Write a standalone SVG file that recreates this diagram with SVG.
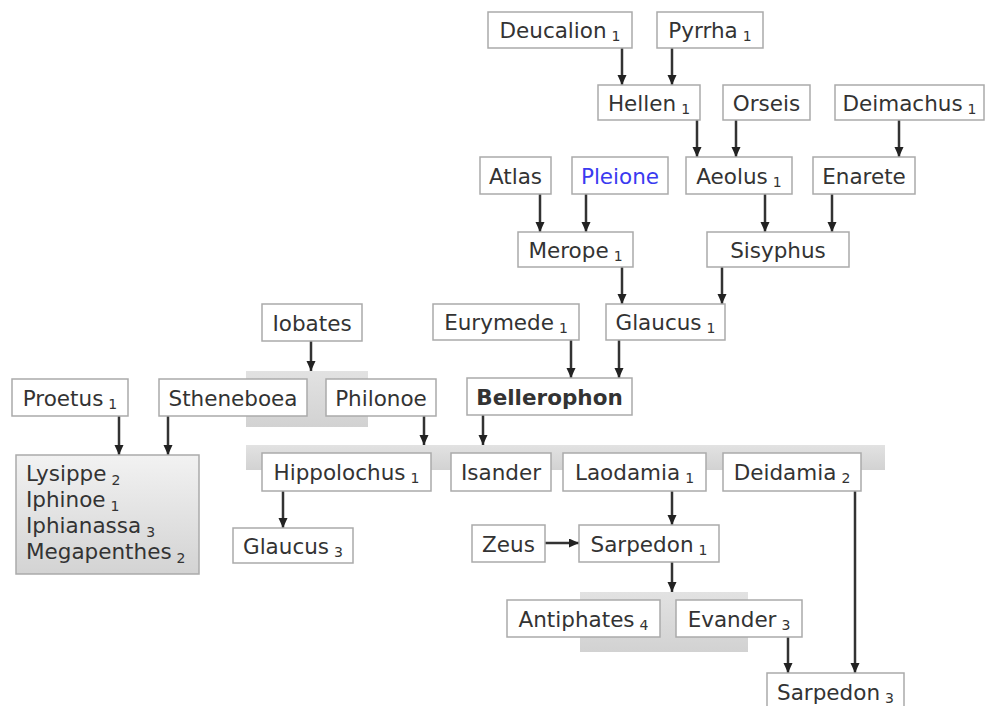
<svg xmlns="http://www.w3.org/2000/svg" width="986" height="706" viewBox="0 0 986 706">
<style>
.box{fill:#fff;stroke:#aaa;stroke-width:1.5}
.grp{fill:url(#gg)}
.t{font-family:"DejaVu Sans",Verdana,sans-serif;font-size:21.5px;fill:#333;text-anchor:middle}
.tl{font-family:"DejaVu Sans",Verdana,sans-serif;font-size:21.5px;fill:#333}
.s{font-size:14px}
.b{font-weight:bold}
.blue{fill:#3a3af0}
.c line{stroke:#333;stroke-width:2.5;marker-end:url(#ah)}
</style>
<defs>
<marker id="ah" markerUnits="userSpaceOnUse" markerWidth="11" markerHeight="10" refX="10" refY="4.5" orient="auto"><path d="M0,0 L10,4.5 L0,9 z" fill="#222"/></marker>
<linearGradient id="gg" x1="0" y1="0" x2="0" y2="1"><stop offset="0" stop-color="#e2e2e2"/><stop offset="1" stop-color="#d2d2d2"/></linearGradient>
<linearGradient id="lg" x1="0" y1="0" x2="0" y2="1"><stop offset="0" stop-color="#f2f2f2"/><stop offset="1" stop-color="#d3d3d3"/></linearGradient>
</defs>
<rect width="986" height="706" fill="#fff"/>
<g id="groups">
<rect class="grp" x="246" y="371" width="122" height="56"/>
<rect class="grp" x="246" y="445" width="639" height="25"/>
<rect class="grp" x="580" y="592" width="168" height="60"/>
</g>
<g class="c" id="connectors">
<line x1="622" y1="48" x2="622" y2="85"/>
<line x1="672" y1="48" x2="672" y2="85"/>
<line x1="697" y1="120" x2="697" y2="157"/>
<line x1="736" y1="120" x2="736" y2="157"/>
<line x1="899" y1="120" x2="899" y2="157"/>
<line x1="540" y1="194" x2="540" y2="232"/>
<line x1="586" y1="194" x2="586" y2="232"/>
<line x1="765" y1="194" x2="765" y2="232"/>
<line x1="832" y1="194" x2="832" y2="232"/>
<line x1="622" y1="267" x2="622" y2="304"/>
<line x1="722" y1="267" x2="722" y2="304"/>
<line x1="571" y1="340" x2="571" y2="378"/>
<line x1="619" y1="340" x2="619" y2="378"/>
<line x1="311" y1="341" x2="311" y2="371"/>
<line x1="119" y1="416" x2="119" y2="455"/>
<line x1="168" y1="416" x2="168" y2="455"/>
<line x1="424" y1="416" x2="424" y2="445"/>
<line x1="483" y1="415" x2="483" y2="445"/>
<line x1="283" y1="491" x2="283" y2="528"/>
<line x1="672" y1="491" x2="672" y2="525"/>
<line x1="545" y1="543" x2="579" y2="543"/>
<line x1="672" y1="562" x2="672" y2="592"/>
<line x1="788" y1="637" x2="788" y2="673"/>
<line x1="855" y1="491" x2="855" y2="673"/>
</g>
<g id="deucalion"><rect class="box" x="488" y="12" width="144" height="36"/><text class="t" x="560" y="37.5">Deucalion<tspan class="s" dx="5" dy="3.5">1</tspan></text></g>
<g id="pyrrha"><rect class="box" x="657" y="12" width="106" height="36"/><text class="t" x="710" y="37.5">Pyrrha<tspan class="s" dx="5" dy="3.5">1</tspan></text></g>
<g id="hellen"><rect class="box" x="598" y="85" width="102" height="35"/><text class="t" x="649" y="110.5">Hellen<tspan class="s" dx="5" dy="3.5">1</tspan></text></g>
<g id="orseis"><rect class="box" x="723" y="85" width="87" height="35"/><text class="t" x="766.5" y="110.5">Orseis</text></g>
<g id="deimachus"><rect class="box" x="835" y="85" width="149" height="35"/><text class="t" x="909.5" y="110.5">Deimachus<tspan class="s" dx="5" dy="3.5">1</tspan></text></g>
<g id="atlas"><rect class="box" x="480" y="157" width="71" height="37"/><text class="t" x="515.5" y="183.5">Atlas</text></g>
<g id="pleione"><rect class="box" x="572" y="157" width="96" height="37"/><text class="t blue" x="620" y="183.5">Pleione</text></g>
<g id="aeolus"><rect class="box" x="686" y="157" width="106" height="37"/><text class="t" x="739" y="183.5">Aeolus<tspan class="s" dx="5" dy="3.5">1</tspan></text></g>
<g id="enarete"><rect class="box" x="813" y="157" width="102" height="37"/><text class="t" x="864" y="183.5">Enarete</text></g>
<g id="merope"><rect class="box" x="518" y="232" width="115" height="35"/><text class="t" x="575.5" y="257.5">Merope<tspan class="s" dx="5" dy="3.5">1</tspan></text></g>
<g id="sisyphus"><rect class="box" x="707" y="232" width="142" height="35"/><text class="t" x="778" y="257.5">Sisyphus</text></g>
<g id="iobates"><rect class="box" x="262" y="304" width="100" height="37"/><text class="t" x="312" y="330.5">Iobates</text></g>
<g id="eurymede"><rect class="box" x="433" y="304" width="146" height="36"/><text class="t" x="506" y="329.5">Eurymede<tspan class="s" dx="5" dy="3.5">1</tspan></text></g>
<g id="glaucus1"><rect class="box" x="606" y="304" width="119" height="36"/><text class="t" x="665.5" y="329.5">Glaucus<tspan class="s" dx="5" dy="3.5">1</tspan></text></g>
<g id="proetus"><rect class="box" x="12" y="379" width="116" height="37"/><text class="t" x="70" y="405.5">Proetus<tspan class="s" dx="5" dy="3.5">1</tspan></text></g>
<g id="stheneboea"><rect class="box" x="159" y="379" width="148" height="37"/><text class="t" x="233" y="405.5">Stheneboea</text></g>
<g id="philonoe"><rect class="box" x="326" y="379" width="110" height="37"/><text class="t" x="381" y="405.5">Philonoe</text></g>
<g id="bellerophon"><rect class="box" x="467" y="378" width="165" height="37"/><text class="t b" x="549.5" y="404.5">Bellerophon</text></g>
<g id="daughters"><rect x="16" y="455" width="183" height="119" fill="url(#lg)" stroke="#aaa" stroke-width="1.5"/>
<text class="tl" x="26" y="481">Lysippe<tspan class="s" dx="5" dy="3.5">2</tspan></text>
<text class="tl" x="26" y="507">Iphinoe<tspan class="s" dx="5" dy="3.5">1</tspan></text>
<text class="tl" x="26" y="533">Iphianassa<tspan class="s" dx="5" dy="3.5">3</tspan></text>
<text class="tl" x="26" y="559">Megapenthes<tspan class="s" dx="5" dy="3.5">2</tspan></text></g>
<g id="hippolochus"><rect class="box" x="262" y="453" width="169" height="38"/><text class="t" x="346.5" y="479.5">Hippolochus<tspan class="s" dx="5" dy="3.5">1</tspan></text></g>
<g id="isander"><rect class="box" x="451" y="453" width="100" height="38"/><text class="t" x="501" y="479.5">Isander</text></g>
<g id="laodamia"><rect class="box" x="563" y="453" width="143" height="38"/><text class="t" x="634.5" y="479.5">Laodamia<tspan class="s" dx="5" dy="3.5">1</tspan></text></g>
<g id="deidamia"><rect class="box" x="723" y="453" width="138" height="38"/><text class="t" x="792" y="479.5">Deidamia<tspan class="s" dx="5" dy="3.5">2</tspan></text></g>
<g id="glaucus3"><rect class="box" x="233" y="528" width="120" height="35"/><text class="t" x="293" y="553.5">Glaucus<tspan class="s" dx="5" dy="3.5">3</tspan></text></g>
<g id="zeus"><rect class="box" x="472" y="525" width="73" height="37"/><text class="t" x="508.5" y="551.5">Zeus</text></g>
<g id="sarpedon1"><rect class="box" x="579" y="525" width="140" height="37"/><text class="t" x="649" y="551.5">Sarpedon<tspan class="s" dx="5" dy="3.5">1</tspan></text></g>
<g id="antiphates"><rect class="box" x="507" y="600" width="153" height="37"/><text class="t" x="583.5" y="626.5">Antiphates<tspan class="s" dx="5" dy="3.5">4</tspan></text></g>
<g id="evander"><rect class="box" x="676" y="600" width="126" height="37"/><text class="t" x="739" y="626.5">Evander<tspan class="s" dx="5" dy="3.5">3</tspan></text></g>
<g id="sarpedon3"><rect class="box" x="767" y="673" width="137" height="40"/><text class="t" x="835.5" y="699.5">Sarpedon<tspan class="s" dx="5" dy="3.5">3</tspan></text></g>
</svg>
